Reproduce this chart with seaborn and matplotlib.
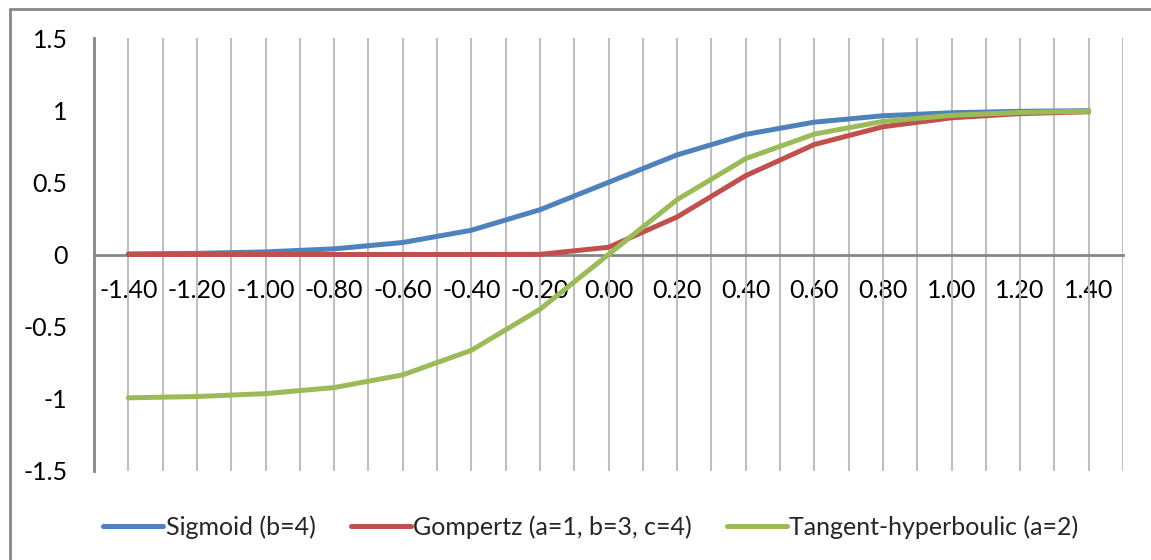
import numpy as np
import pandas as pd
import seaborn as sns
import matplotlib.pyplot as plt
from matplotlib.lines import Line2D

# Category labels along the x axis
x_labels = ["-1.40", "-1.20", "-1.00", "-0.80", "-0.60", "-0.40", "-0.20", "0.00",
            "0.20", "0.40", "0.60", "0.80", "1.00", "1.20", "1.40"]

# Activation function values at each category
sigmoid = [0.004, 0.008, 0.018, 0.039, 0.083, 0.168, 0.310, 0.500,
           0.690, 0.832, 0.917, 0.961, 0.982, 0.992, 0.996]
gompertz = [0.000, 0.000, 0.000, 0.000, 0.000, 0.000, 0.001, 0.050,
            0.260, 0.546, 0.762, 0.885, 0.947, 0.976, 0.989]
tanh_h = [-0.993, -0.984, -0.964, -0.922, -0.834, -0.664, -0.380, 0.000,
          0.380, 0.664, 0.834, 0.922, 0.964, 0.984, 0.993]

series_names = ["Sigmoid (b=4)", "Gompertz (a=1, b=3, c=4)", "Tangent-hyperboulic (a=2)"]
y_ticks = [-1.5, -1, -0.5, 0, 0.5, 1, 1.5]
y_tick_labels = ["-1.5", "-1", "-0.5", "0", "0.5", "1", "1.5"]

colors = ["#4F81BD", "#C0504D", "#9BBB59"]

sns.set_theme(style="white")
plt.rcParams["font.family"] = ["Lato", "DejaVu Sans"]

FS = 18
LW = 3.6

n = len(x_labels)
idx = np.arange(n)
df = pd.concat([
    pd.DataFrame({"i": idx, "value": vals, "series": name})
    for name, vals in zip(series_names, [sigmoid, gompertz, tanh_h])
], ignore_index=True)

fig = plt.figure(figsize=(11.51, 5.60), dpi=100)
ax = fig.add_axes([94 / 1151, 89 / 560, (1123 - 94) / 1151, (471 - 38) / 560])

sns.lineplot(data=df, x="i", y="value", hue="series", hue_order=series_names,
             palette=colors, linewidth=LW, sort=False, ax=ax,
             solid_capstyle="round", solid_joinstyle="round", zorder=3)

ax.set_xlim(-0.5, n - 0.5)
ax.set_ylim(-1.5, 1.5)

# Vertical gridlines at every category and every midpoint between them
grid_x = np.arange(0, n, 0.5)
for gx in grid_x:
    ax.axvline(gx, color="#BFBFBF", linewidth=1.5, zorder=1)

ax.set_xticks(idx)
ax.set_xticklabels(x_labels)
ax.set_yticks(y_ticks)
ax.set_yticklabels(y_tick_labels)
ax.set_xlabel("")
ax.set_ylabel("")
ax.grid(False)

for s in ["top", "right"]:
    ax.spines[s].set_visible(False)
ax.spines["bottom"].set_position(("data", 0))
ax.spines["bottom"].set_color("#868686")
ax.spines["bottom"].set_linewidth(2)
ax.spines["bottom"].set_zorder(2)
ax.spines["left"].set_color("#868686")
ax.spines["left"].set_linewidth(2)

ax.tick_params(axis="x", length=0, pad=18, labelsize=FS, colors="black")
ax.tick_params(axis="y", length=0, pad=19, labelsize=FS, colors="black")
for lbl in ax.get_xticklabels():
    lbl.set_zorder(4)

ax.get_legend().remove()
handles = [Line2D([0], [0], color=c, linewidth=LW, solid_capstyle="round") for c in colors]
fig.legend(handles, series_names, loc="center", bbox_to_anchor=(591 / 1151, 1 - 527 / 560),
           ncol=3, frameon=False, fontsize=FS, handlelength=2.4, handletextpad=0.1,
           columnspacing=1.4)

# Chart-area border (top and left edges)
fig.add_artist(Line2D([10 / 1151, 1.0], [1 - 9 / 560, 1 - 9 / 560],
                      transform=fig.transFigure, color="#868686", linewidth=2))
fig.add_artist(Line2D([10 / 1151, 10 / 1151], [0.0, 1 - 9 / 560],
                      transform=fig.transFigure, color="#868686", linewidth=2))

fig.savefig("out.png", dpi=100, facecolor="white")
